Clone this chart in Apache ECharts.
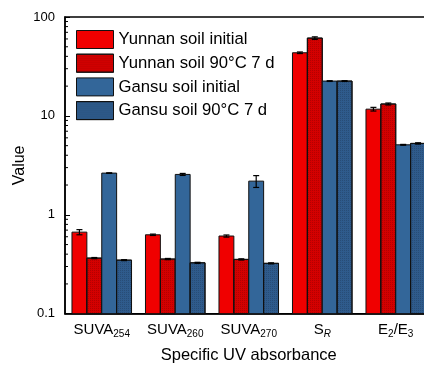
<!DOCTYPE html>
<html><head><meta charset="utf-8">
<script src="https://cdn.jsdelivr.net/npm/echarts@6/dist/echarts.min.js"></script>
<style>html,body{margin:0;padding:0;background:#fff}#c{width:424px;height:367px}</style>
</head><body><div id="c"></div>
<script>
const categories = ['SUVA254', 'SUVA260', 'SUVA270', 'SR', 'E2/E3'];
const categoryLabels = ['{m|SUVA}{s|254}', '{m|SUVA}{s|260}', '{m|SUVA}{s|270}', '{m|S}{si|R}', '{m|E}{s|2}{m|/E}{s|3}'];
const seriesNames = ['Yunnan soil initial', 'Yunnan soil 90°C 7 d', 'Gansu soil initial', 'Gansu soil 90°C 7 d'];
const yunnanInitial = [0.668, 0.628, 0.61, 43.5, 11.7];
const yunnanInitialErr = [0.04, 0.01, 0.015, 0.8, 0.5];
const yunnan90 = [0.365, 0.357, 0.354, 61.2, 13.2];
const yunnan90Err = [0.005, 0.005, 0.005, 1.8, 0.3];
const gansuInitial = [2.64, 2.56, 2.19, 22.5, 5.1];
const gansuInitialErr = [0.02, 0.06, 0.3, 0.2, 0.05];
const gansu90 = [0.348, 0.327, 0.323, 22.5, 5.27];
const gansu90Err = [0.004, 0.004, 0.004, 0.2, 0.08];
const yTicks = [0.1, 1, 10, 100];
const minorTickValues = [0.2,0.3,0.4,0.5,0.6,0.7,0.8,0.9,2,3,4,5,6,7,8,9,20,30,40,50,60,70,80,90];

const colors = ['#f00000', '#d40000', '#336699', '#2f5b8c'];
const values = [yunnanInitial, yunnan90, gansuInitial, gansu90];
const errs = [yunnanInitialErr, yunnan90Err, gansuInitialErr, gansu90Err];
const catGap = 0.19;
const yMin = yTicks[0], yMax = yTicks[yTicks.length - 1];
const decalFor = i => (i === 1 || i === 3) ? {symbol: 'rect', symbolSize: 1, dashArrayX: [1, 1], dashArrayY: [1, 1], color: 'rgba(0,0,0,0.15)'} : null;

const chart = echarts.init(document.getElementById('c'), null, {renderer: 'canvas'});
const series = [];
values.forEach((vals, i) => {
  series.push({
    name: seriesNames[i], type: 'custom', z: 3,
    data: vals.map((v, k) => [k, v]),
    itemStyle: {color: colors[i], borderColor: '#111', borderWidth: 1, decal: decalFor(i)},
    renderItem: function (params, api) {
      const k = api.value(0), v = api.value(1);
      const band = api.size([1, 0])[0];
      const bw = band * (1 - catGap) / 4;
      const cx = api.coord([k, v])[0] + (i - 1.5) * bw;
      const yt = api.coord([k, v])[1];
      const yb = api.coord([k, yMin])[1];
      return {type: 'rect', shape: {x: cx - bw / 2, y: yt, width: bw, height: yb - yt},
        style: api.style({fill: colors[i], stroke: '#111', lineWidth: 1, decal: decalFor(i)})};
    }
  });
});
values.forEach((vals, i) => {
  series.push({
    type: 'custom', silent: true, z: 5,
    data: vals.map((v, k) => [k, v, errs[i][k]]),
    renderItem: function (params, api) {
      const k = api.value(0), v = api.value(1), e = api.value(2);
      const band = api.size([1, 0])[0];
      const bw = band * (1 - catGap) / 4;
      const cx = api.coord([k, v])[0] + (i - 1.5) * bw;
      const yt = api.coord([k, v + e])[1];
      const yb = api.coord([k, v - e])[1];
      const st = {stroke: '#000', lineWidth: 1.2};
      return {type: 'group', children: [
        {type: 'line', shape: {x1: cx, y1: yt, x2: cx, y2: yb}, style: st},
        {type: 'line', shape: {x1: cx - 3, y1: yt, x2: cx + 3, y2: yt}, style: st},
        {type: 'line', shape: {x1: cx - 3, y1: yb, x2: cx + 3, y2: yb}, style: st}
      ]};
    }
  });
});
series.push({
  type: 'custom', silent: true, z: 6,
  data: minorTickValues.map(v => [0, v]),
  renderItem: function (params, api) {
    const y = api.coord([0, api.value(1)])[1];
    const x = params.coordSys.x;
    return {type: 'line', shape: {x1: x, y1: y, x2: x + 3, y2: y}, style: {stroke: '#000', lineWidth: 1}};
  }
});

chart.setOption({
  animation: false,
  textStyle: {fontFamily: 'Liberation Sans, Arial, sans-serif', color: '#000'},
  grid: {left: 65, top: 17, width: 367.5, height: 296.7, outerBoundsMode: 'none', containLabel: false, show: true, borderColor: '#000', borderWidth: 1.5, backgroundColor: 'transparent'},
  legend: {
    data: seriesNames.map((n, i) => ({name: n, icon: 'rect', itemStyle: {color: colors[i], borderColor: '#111', borderWidth: 1, decal: decalFor(i)}})),
    orient: 'vertical', left: 76, top: 30, padding: 0,
    itemWidth: 37, itemHeight: 18, itemGap: 4.7,
    textStyle: {fontSize: 16.7, color: '#000', fontFamily: 'Liberation Sans, Arial, sans-serif'}
  },
  xAxis: {
    type: 'category', data: categories,
    name: 'Specific UV absorbance', nameLocation: 'middle', nameGap: 33, nameMoveOverlap: false,
    nameTextStyle: {fontSize: 16.5, color: '#000'},
    axisLine: {lineStyle: {color: '#000', width: 1.5}},
    axisTick: {show: false},
    axisLabel: {
      margin: 7, color: '#000', interval: 0,
      formatter: function (v, idx) { return categoryLabels[idx]; },
      rich: {
        m: {fontSize: 15, color: '#000'},
        s: {fontSize: 10, color: '#000', padding: [9, 0, 0, 0]},
        si: {fontSize: 10, color: '#000', fontStyle: 'italic', padding: [9, 0, 0, 0]}
      }
    }
  },
  yAxis: {
    type: 'log', min: yMin, max: yMax, logBase: 10,
    name: 'Value', nameLocation: 'middle', nameGap: 37, nameMoveOverlap: false,
    nameTextStyle: {fontSize: 16, color: '#000'},
    axisLine: {show: true, lineStyle: {color: '#000', width: 1.5}},
    axisTick: {show: true, inside: true, length: 5, lineStyle: {color: '#000', width: 1}},
    splitLine: {show: false},
    axisLabel: {fontSize: 13, color: '#000', margin: 10, formatter: function (v) { const t = yTicks.find(t => Math.abs(t - v) < 1e-9 * t); return String(t !== undefined ? t : v); }}
  },
  series: series
});
</script></body></html>
